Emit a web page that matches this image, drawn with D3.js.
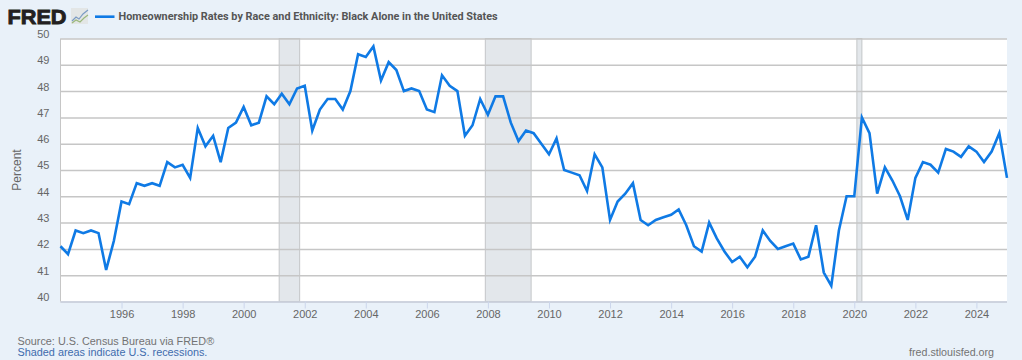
<!DOCTYPE html>
<html>
<head>
<meta charset="utf-8">
<script src="https://cdn.jsdelivr.net/npm/d3@7"></script>
<style>
  html, body { margin: 0; padding: 0; background: #e9f1f9; }
  svg { display: block; }
  text { font-family: "Liberation Sans", Arial, sans-serif; }
</style>
</head>
<body>
<div id="chart"></div>
<script>
// Quarterly values, 1994 Q1 to 2025 Q1
const startYear = 1994;
const rates = [
  42.1, 41.8, 42.7, 42.6,
  42.7, 42.6, 41.2, 42.3,
  43.8, 43.7, 44.5, 44.4,
  44.5, 44.4, 45.3, 45.1,
  45.2, 44.7, 46.6, 45.9,
  46.3, 45.3, 46.6, 46.8,
  47.4, 46.7, 46.8, 47.8,
  47.5, 47.9, 47.5, 48.1,
  48.2, 46.5, 47.3, 47.7,
  47.7, 47.3, 48.0, 49.4,
  49.3, 49.7, 48.4, 49.1,
  48.8, 48.0, 48.1, 48.0,
  47.3, 47.2, 48.6, 48.2,
  48.0, 46.3, 46.7, 47.7,
  47.1, 47.8, 47.8, 46.8,
  46.1, 46.5, 46.4, 46.0,
  45.6, 46.2, 45.0, 44.9,
  44.8, 44.2, 45.6, 45.1,
  43.1, 43.8, 44.1, 44.5,
  43.1, 42.9, 43.1, 43.2,
  43.3, 43.5, 42.9, 42.1,
  41.9, 43.0, 42.4, 41.9,
  41.5, 41.7, 41.3, 41.7,
  42.7, 42.3, 42.0, 42.1,
  42.2, 41.6, 41.7, 42.9,
  41.1, 40.6, 42.7, 44.0,
  44.0, 47.0, 46.4, 44.1,
  45.1, 44.6, 44.0, 43.1,
  44.7, 45.3, 45.2, 44.9,
  45.8, 45.7, 45.5, 45.9,
  45.7, 45.3, 45.7, 46.4,
  44.7
];

const recessionStarts = ["2001-03-01", "2007-12-01", "2020-02-01"];
const recessionEnds = ["2001-11-01", "2009-06-01", "2020-04-01"];
const yTicks = [40, 41, 42, 43, 44, 45, 46, 47, 48, 49, 50];
const xTickYears = [1996, 1998, 2000, 2002, 2004, 2006, 2008, 2010, 2012, 2014, 2016, 2018, 2020, 2022, 2024];

const titleText = "Homeownership Rates by Race and Ethnicity: Black Alone in the United States";
const sourceText = "Source: U.S. Census Bureau via FRED®";
const shadedText = "Shaded areas indicate U.S. recessions.";
const siteText = "fred.stlouisfed.org";

const svgWidth = 1022, svgHeight = 360;
const plotLeft = 60.5, plotRight = 1007, plotTop = 38.5, plotBottom = 301.5;

const svg = d3.select("#chart").append("svg")
    .attr("width", svgWidth)
    .attr("height", svgHeight);

const data = rates.map((v, i) => ({
    date: new Date(startYear + Math.floor(i / 4), (i % 4) * 3, 1),
    value: v
}));

const xScale = d3.scaleTime()
    .domain([new Date(startYear, 0, 1), new Date(2025, 0, 1)])
    .range([plotLeft, plotRight]);
const yScale = d3.scaleLinear().domain([40, 50]).range([plotBottom, plotTop]);

// plot background
svg.append("rect")
    .attr("x", plotLeft).attr("y", plotTop)
    .attr("width", plotRight - plotLeft).attr("height", plotBottom - plotTop)
    .attr("fill", "#ffffff");

// recession bands
svg.append("g").selectAll("rect")
    .data(recessionStarts)
    .enter()
    .append("rect")
    .attr("x", d => xScale(new Date(d)))
    .attr("y", plotTop)
    .attr("width", (d, i) => xScale(new Date(recessionEnds[i])) - xScale(new Date(d)))
    .attr("height", plotBottom - plotTop)
    .attr("fill", "#e3e7eb")
    .attr("stroke", "#c4c6c8")
    .attr("stroke-width", 1);

// y axis with gridlines
const yAxis = svg.append("g")
    .attr("transform", `translate(${plotLeft},0)`)
    .call(d3.axisLeft(yScale).tickValues(yTicks).tickSize(-(plotRight - plotLeft)).tickPadding(11));
yAxis.select(".domain").remove();
yAxis.selectAll("line").attr("stroke", "#c6c6c6").attr("stroke-width", 1.5);
yAxis.selectAll("text")
    .attr("fill", "#666666")
    .style("font-size", "11px")
    .attr("dy", "-0.1em");

// left edge of plot
svg.append("line")
    .attr("x1", plotLeft).attr("x2", plotLeft)
    .attr("y1", plotTop).attr("y2", plotBottom)
    .attr("stroke", "#c6c6c6");

// x axis
const xAxis = svg.append("g")
    .attr("transform", `translate(0,${plotBottom})`)
    .call(d3.axisBottom(xScale)
        .tickValues(xTickYears.map(y => new Date(y, 0, 1)))
        .tickFormat(d3.timeFormat("%Y"))
        .tickSize(7)
        .tickPadding(2));
xAxis.select(".domain").attr("stroke", "#ccd6eb").attr("d", `M${plotLeft},0.5H${plotRight}`);
xAxis.selectAll("line").attr("stroke", "#ccd6eb");
xAxis.selectAll("text")
    .attr("fill", "#666666")
    .style("font-size", "11px");

// series line
const line = d3.line()
    .x(d => xScale(d.date))
    .y(d => yScale(d.value));

svg.append("path")
    .datum(data)
    .attr("fill", "none")
    .attr("stroke", "#0f7ae5")
    .attr("stroke-width", 2.6)
    .attr("stroke-linejoin", "miter")
    .attr("d", line);

// y axis label
svg.append("text")
    .attr("transform", "translate(20.5,170) rotate(-90)")
    .attr("text-anchor", "middle")
    .attr("fill", "#666666")
    .style("font-size", "12px")
    .text("Percent");

// FRED logo
svg.append("text")
    .attr("x", 7.5).attr("y", 24)
    .attr("fill", "#231f20")
    .style("font-size", "21px")
    .style("font-weight", "700")
    .style("stroke", "#231f20")
    .style("stroke-width", "0.9px")
    .attr("textLength", 59)
    .attr("lengthAdjust", "spacingAndGlyphs")
    .text("FRED");

const logo = svg.append("g").attr("transform", "translate(71,8)");
logo.append("rect").attr("width", 17).attr("height", 16).attr("fill", "#e3e6e6");
logo.append("path")
    .attr("d", "M1,13L5,9L8,11L12,6L17,2")
    .attr("fill", "none").attr("stroke", "#7c9cc4").attr("stroke-width", 1.2);
logo.append("path")
    .attr("d", "M1,15L5,12L9,14L13,10L17,7")
    .attr("fill", "none").attr("stroke", "#9bb87c").attr("stroke-width", 1.2);

// legend swatch and title
svg.append("line")
    .attr("x1", 95).attr("x2", 114.5)
    .attr("y1", 16.7).attr("y2", 16.7)
    .attr("stroke", "#0f7ae5").attr("stroke-width", 2.6);

svg.append("text")
    .attr("x", 118.5).attr("y", 20.3)
    .attr("fill", "#555555")
    .style("font-family", "Roboto, sans-serif")
    .style("font-size", "10.85px")
    .style("font-weight", "700")
    .text(titleText);

// footer
svg.append("text")
    .attr("x", 17.5).attr("y", 345)
    .attr("fill", "#737373")
    .style("font-size", "10.85px")
    .text(sourceText);

svg.append("text")
    .attr("x", 17.5).attr("y", 356)
    .attr("fill", "#3f6cad")
    .style("font-size", "10.85px")
    .text(shadedText);

svg.append("text")
    .attr("x", 994).attr("y", 356)
    .attr("text-anchor", "end")
    .attr("fill", "#737373")
    .style("font-size", "10.7px")
    .text(siteText);
</script>
</body>
</html>
